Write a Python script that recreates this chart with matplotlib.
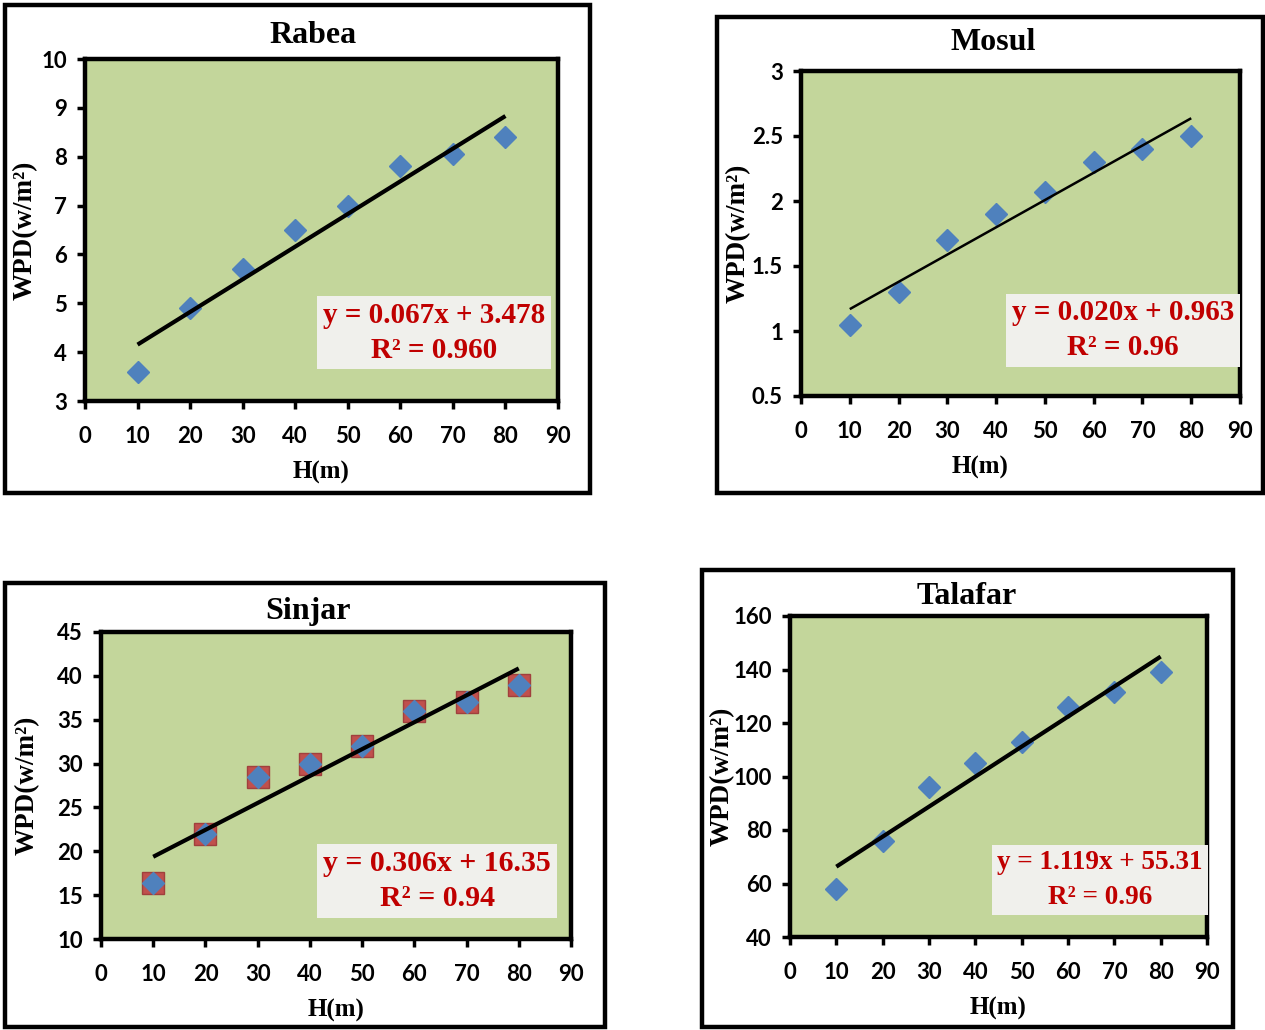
import numpy as np
import matplotlib
matplotlib.use("Agg")
import matplotlib.pyplot as plt
from matplotlib.patches import Rectangle
from matplotlib.ticker import FuncFormatter

W, H = 1265, 1030

heights = [10, 20, 30, 40, 50, 60, 70, 80]

rabea_wpd = [3.6, 4.9, 5.7, 6.5, 7.0, 7.8, 8.05, 8.4]
mosul_wpd = [1.05, 1.3, 1.7, 1.9, 2.07, 2.3, 2.4, 2.5]
sinjar_wpd = [16.4, 22.0, 28.5, 30.0, 32.0, 36.0, 37.0, 39.0]
talafar_wpd = [58, 76, 96, 105, 113, 126, 131.5, 139]

rabea_eq = "y = 0.067x + 3.478\nR² = 0.960"
mosul_eq = "y = 0.020x + 0.963\nR² = 0.96"
sinjar_eq = "y = 0.306x + 16.35\nR² = 0.94"
talafar_eq = "y = 1.119x + 55.31\nR² = 0.96"

GREEN = "#C3D69B"
BLUE = "#4F81BD"
RED = "#C0504D"
EQ_RED = "#C00000"
SERIF = "Liberation Serif"
SANS = "Lato"

fig = plt.figure(figsize=(W / 100, H / 100), dpi=100)
fig.patch.set_facecolor("white")


def frame(x0, y0, x1, y1):
    # outer black box around each chart, pixel coords from top-left
    r = Rectangle((x0 / W, 1 - y1 / H), (x1 - x0) / W, (y1 - y0) / H,
                  transform=fig.transFigure, fill=False, ec="black", lw=3.2)
    fig.patches.append(r)


def panel(box, ylim, ystep, ydata, eq, title, title_x, title_dy,
          eq_pos, xlab_x, ylab_dx, fit_lw=3, squares=False, eq_fs=21,
          eq_ls=1.35):
    left, top, right, bottom = box
    wpx, hpx = right - left, bottom - top
    ax = fig.add_axes([left / W, 1 - bottom / H, wpx / W, hpx / H])
    ax.set_facecolor(GREEN)
    ax.set_xlim(0, 90)
    ax.set_ylim(*ylim)
    ax.set_xticks(np.arange(0, 91, 10))
    ax.set_yticks(np.arange(ylim[0], ylim[1] + ystep / 2, ystep))
    ax.yaxis.set_major_formatter(FuncFormatter(lambda v, p: "%g" % v))
    for s in ax.spines.values():
        s.set_linewidth(3.2)
        s.set_color("black")
    ax.tick_params(direction="out", length=6, width=2.5)
    ax.tick_params(axis="x", pad=12)
    ax.tick_params(axis="y", pad=7)
    for lb in ax.get_xticklabels() + ax.get_yticklabels():
        lb.set_fontfamily(SANS)
        lb.set_fontweight("bold")
        lb.set_fontsize(16)

    x = np.array(heights, dtype=float)
    y = np.array(ydata, dtype=float)
    k, b = np.polyfit(x, y, 1)
    if squares:
        ax.plot(x, y, "s", ms=16, color=RED, mec="#A0403D", mew=1, zorder=3)
        ax.plot(x, y, "D", ms=11, color=BLUE, mec=BLUE, zorder=4)
    else:
        ax.plot(x, y, "D", ms=11, color=BLUE, mec=BLUE, zorder=3)
    ax.plot([x[0], x[-1]], [k * x[0] + b, k * x[-1] + b], color="black",
            lw=fit_lw, solid_capstyle="butt", zorder=5)

    ax.text(eq_pos[0], eq_pos[1], eq, transform=ax.transAxes, ha="center",
            va="center", color=EQ_RED, fontsize=eq_fs, fontweight="bold",
            family=SERIF, linespacing=eq_ls, zorder=6,
            bbox=dict(boxstyle="square,pad=0.2", fc="#F0F0EC", ec="none"))

    ax.text(title_x, 1 + title_dy / hpx, title, transform=ax.transAxes,
            ha="center", va="center", fontsize=23, fontweight="bold",
            family=SERIF)
    ax.set_xlabel("H(m)", fontsize=18, fontweight="bold", family=SERIF,
                  va="center")
    ax.xaxis.set_label_coords(xlab_x, -71 / hpx)
    ax.set_ylabel("WPD(w/m²)", fontsize=19.5, fontweight="bold", family=SERIF,
                  va="center")
    ax.yaxis.set_label_coords(-ylab_dx / wpx, 0.5)
    return ax


frame(5, 5, 590, 493)
frame(717, 17, 1263, 493)
frame(5, 583, 605, 1027)
frame(702, 570, 1233, 1027)

panel((85, 59, 558, 401), (3, 10), 1, rabea_wpd, rabea_eq, "Rabea",
      0.482, 23, (0.738, 0.199), 0.5, 60)
panel((801, 71, 1240, 396), (0.5, 3), 0.5, mosul_wpd, mosul_eq, "Mosul",
      0.437, 28, (0.733, 0.203), 0.408, 63, fit_lw=1.8)
panel((101, 632, 571, 939), (10, 45), 5, sinjar_wpd, sinjar_eq, "Sinjar",
      0.44, 20, (0.715, 0.189), 0.5, 74, squares=True, eq_fs=21.5)
panel((790, 616, 1207, 937), (40, 160), 20, talafar_wpd, talafar_eq,
      "Talafar", 0.424, 19, (0.743, 0.178), 0.5, 68, eq_fs=19.5, eq_ls=1.5)

fig.savefig("out.png", dpi=100)
